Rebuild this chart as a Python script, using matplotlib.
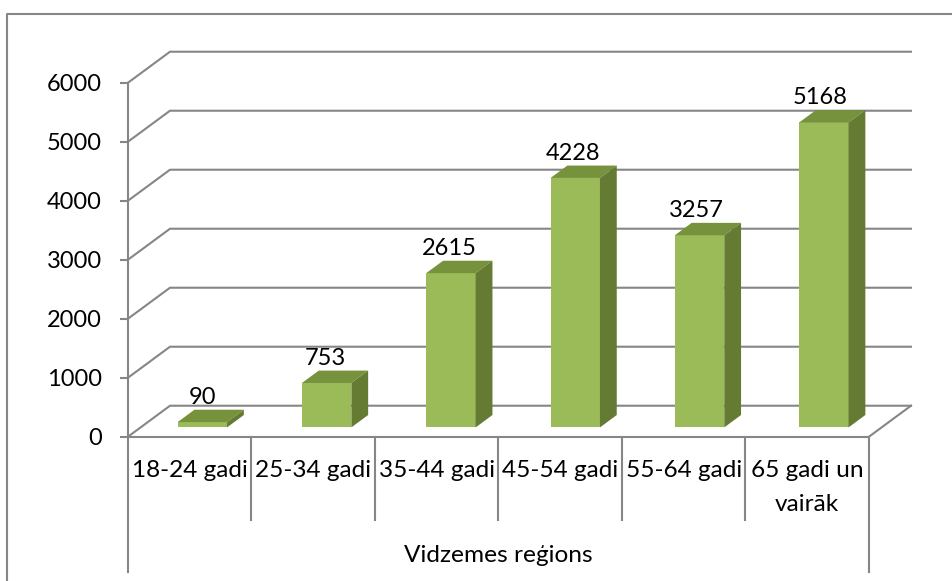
import matplotlib
matplotlib.use('Agg')
import matplotlib.pyplot as plt
from matplotlib.lines import Line2D
from matplotlib.patches import Polygon

# Data
age_groups = ['18-24 gadi', '25-34 gadi', '35-44 gadi', '45-54 gadi', '55-64 gadi', '65 gadi un\nvairāk']
residents = [90, 753, 2615, 4228, 3257, 5168]
y_ticks = [0, 1000, 2000, 3000, 4000, 5000, 6000]
region = 'Vidzemes reģions'

W, H = 953, 581
GREY = '#868686'
FRONT, TOP, SIDE = '#9BBB59', '#76923C', '#657A33'

plt.rcParams['font.family'] = ['Lato', 'DejaVu Sans']
plt.rcParams['font.size'] = 17

fig = plt.figure(figsize=(W / 100, H / 100), dpi=100)
ax = fig.add_axes([128 / W, 1 - 436.7 / H, (869 - 128) / W, (436.7 - 82.7) / H])
ax.set_xlim(0, 6)
ax.set_ylim(0, 6000)

# oblique depth of the fake 3D box, in data units
depth_x = 0.34
depth_y = 525
bar_w = 0.4
bar_step = 1.0065  # bars sit a touch wider apart than the category cells

# outer chart frame
fig.add_artist(Line2D([7.5 / W, 7.5 / W, 1], [0, 1 - 14 / H, 1 - 14 / H], color=GREY, lw=1.5))

# side wall and back wall gridlines
for v in y_ticks:
    ax.plot([0, depth_x, 6 + depth_x], [v, v + depth_y, v + depth_y], color=GREY, lw=1.5, clip_on=False, zorder=1)
ax.plot([6, 6 + depth_x], [0, depth_y], color=GREY, lw=1.5, clip_on=False, zorder=1)

# bars
for i, v in enumerate(residents):
    x0 = i * bar_step + 0.5 - bar_w / 2 + 0.3 * depth_x
    y0 = 0.3 * depth_y
    dx = 0.4 * depth_x
    dy = 0.4 * depth_y
    x1 = x0 + bar_w
    y1 = y0 + v
    ax.add_patch(Polygon([(x0, y0), (x1, y0), (x1, y1), (x0, y1)], fc=FRONT, ec='none', clip_on=False, zorder=3))
    ax.add_patch(Polygon([(x0, y1), (x1, y1), (x1 + dx, y1 + dy), (x0 + dx, y1 + dy)], fc=TOP, ec='none', clip_on=False, zorder=3))
    ax.add_patch(Polygon([(x1, y0), (x1 + dx, y0 + dy), (x1 + dx, y1 + dy), (x1, y1)], fc=SIDE, ec='none', clip_on=False, zorder=3))
    ax.annotate(str(v), (i + 0.5 + 0.3 * depth_x, y1 + dy), xytext=(0, 9), textcoords='offset points',
                ha='center', va='center', color='black', zorder=4, annotation_clip=False)

# axes
for s in ['top', 'right']:
    ax.spines[s].set_visible(False)
for s in ['left', 'bottom']:
    ax.spines[s].set_color(GREY)
    ax.spines[s].set_linewidth(1.5)
    ax.spines[s].set_zorder(2)
ax.patch.set_alpha(0)
ax.set_yticks(y_ticks)
ax.tick_params(axis='y', length=5.8, width=1.5, color=GREY, pad=13)
ax.set_xticks([i + 0.5 for i in range(len(age_groups))])
ax.set_xticklabels(age_groups, linespacing=1.75, fontsize=17.6)
ax.tick_params(axis='x', length=0, pad=17)

# category dividers under the axis
trans = ax.get_xaxis_transform()
below_short = -83 / 354
below_long = -135 / 354
for x in range(1, 6):
    ax.plot([x, x], [0, below_short], color=GREY, lw=1.5, transform=trans, clip_on=False)
for x in [0, 6]:
    ax.plot([x, x], [0, below_long], color=GREY, lw=1.5, transform=trans, clip_on=False)
ax.text(3, -119 / 354, region, transform=trans, ha='center', va='center', fontsize=17.6)

fig.savefig('out.png', dpi=100)
